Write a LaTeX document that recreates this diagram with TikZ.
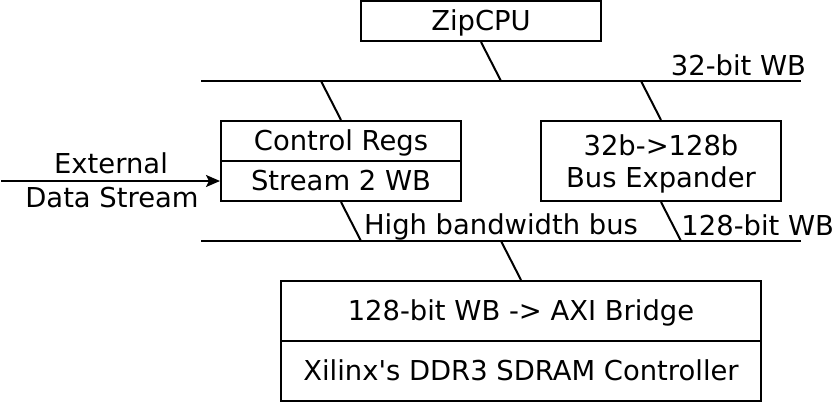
\documentclass[tikz,border=0pt]{standalone}
\usepackage{fontspec}
\usepackage{tikz}
\usetikzlibrary{arrows.meta}
\newfontfamily\dvsans{DejaVu Sans}

\begin{document}
\begin{tikzpicture}[x=1pt,y=-1pt,line width=2pt,
        font=\dvsans\fontsize{27.4}{32}\selectfont,
        blk/.style={draw,inner sep=0pt,minimum width=240pt,minimum height=40pt,
            text height=20pt,text depth=2pt},
        lbl/.style={inner sep=0pt}]
        \useasboundingbox (0,0) rectangle (836,402);

        % blocks
        \node[blk] (cpu) at (481,21) {ZipCPU};
        \node[blk] (ctrl) at (341,141) {Control Regs};
        \node[blk] (strm) at (341,181) {Stream 2 WB};
        \node[blk,align=center,minimum height=80pt,text height=54pt] (expd) at (661,161) {32b->128b\\Bus Expander};
        \node[blk,minimum width=480pt,minimum height=60pt] (brdg) at (521,311) {128-bit WB -> AXI Bridge};
        \node[blk,minimum width=480pt,minimum height=60pt] (ddr) at (521,371) {Xilinx's DDR3 SDRAM Controller};

        % the two buses
        \coordinate (wbL) at (201,81);
        \coordinate (wbR) at (801,81);
        \coordinate (hbL) at (201,241);
        \coordinate (hbR) at (801,241);
        \draw (wbL) -- (wbR);
        \draw (hbL) -- (hbR);
        \node[lbl,anchor=base east] (wblbl) at (807,75) {32-bit WB};
        \node[lbl,anchor=base] (hblbl) at (501,234) {High bandwidth bus};
        \node[lbl,anchor=base east] (exlbl) at (835,235) {128-bit WB};

        % taps onto the buses
        \coordinate (tcpu) at (501,81);
        \coordinate (tctrl) at (321,81);
        \coordinate (texpa) at (641,81);
        \coordinate (tstrm) at (361,241);
        \coordinate (texpb) at (681,241);
        \coordinate (tbrdg) at (501,241);
        \draw (cpu.south) -- (tcpu);
        \draw (tctrl) -- (ctrl.north);
        \draw (texpa) -- (expd.north);
        \draw (strm.south) -- (tstrm);
        \draw (expd.south) -- (texpb);
        \draw (tbrdg) -- (brdg.north);

        % incoming stream
        \coordinate (src) at (1,181);
        \draw[-{Stealth[length=14pt,width=12pt,inset=3pt]}] (src) -- (strm.west);
        \node[lbl,anchor=base] (ext) at (111,173) {External};
        \node[lbl,anchor=base] (dat) at (112,207) {Data Stream};
\end{tikzpicture}
\end{document}
